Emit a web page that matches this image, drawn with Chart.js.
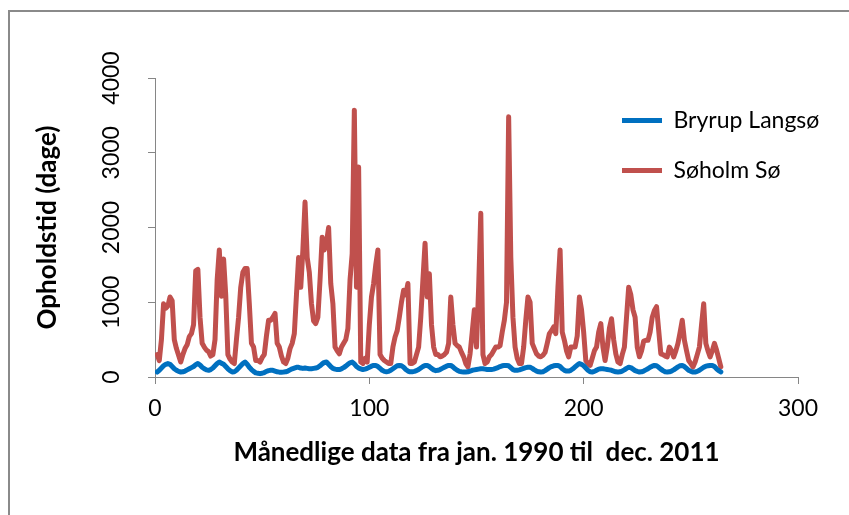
<!DOCTYPE html>
<html>
<head>
<meta charset="utf-8">
<script src="https://cdn.jsdelivr.net/npm/chart.js@4/dist/chart.umd.min.js"></script>
<style>
    body { margin: 0; background: #fff; }
    #wrap { position: relative; width: 849px; height: 515px; }
    #frame {
        position: absolute; left: 8px; top: 10px; right: -4px; bottom: -4px;
        border-top: 2px solid #8a8a8a; border-left: 2px solid #8a8a8a;
    }
</style>
</head>
<body>
<div id="wrap">
    <div id="frame"></div>
    <canvas id="residenceChart"></canvas>
</div>
<script>
// Monthly residence time (days), Jan 1990 - Dec 2011, one row per year
const bryrup = [
    67, 90, 120, 150, 170, 180, 170, 140, 110, 90, 75, 67,
    70, 80, 95, 110, 125, 140, 165, 180, 160, 130, 110, 95,
    90, 100, 120, 150, 180, 200, 185, 170, 140, 110, 85, 67,
    70, 90, 120, 150, 180, 200, 170, 130, 100, 75, 55, 50,
    45, 50, 60, 75, 85, 90, 90, 80, 70, 65, 65, 67,
    70, 80, 95, 110, 120, 130, 130, 120, 115, 120, 115, 110,
    110, 115, 120, 130, 150, 175, 195, 200, 170, 140, 115, 105,
    100, 100, 110, 125, 145, 170, 190, 200, 175, 140, 120, 110,
    100, 105, 115, 130, 145, 155, 155, 140, 115, 90, 75, 70,
    75, 90, 110, 130, 150, 155, 150, 130, 100, 80, 70, 70,
    75, 85, 100, 120, 140, 155, 155, 140, 115, 95, 85, 90,
    100, 115, 130, 145, 155, 155, 135, 110, 90, 75, 70, 67,
    67, 70, 80, 90, 95, 100, 105, 110, 110, 105, 100, 100,
    100, 105, 115, 125, 140, 150, 155, 155, 150, 125, 100, 90,
    90, 95, 105, 115, 125, 130, 130, 115, 95, 80, 70, 67,
    70, 85, 105, 125, 140, 150, 155, 155, 140, 110, 90, 80,
    80, 90, 110, 135, 160, 180, 170, 150, 120, 90, 70, 67,
    75, 90, 105, 110, 110, 105, 100, 95, 90, 80, 70, 67,
    70, 80, 95, 115, 130, 125, 105, 85, 75, 67, 70, 80,
    95, 110, 130, 145, 155, 150, 130, 105, 85, 70, 67, 70,
    80, 95, 115, 135, 150, 155, 140, 115, 90, 75, 67, 67,
    75, 90, 110, 130, 145, 150, 155, 155, 140, 110, 85, 67
];
const soholm = [
    300, 220, 500, 980, 920, 950, 1070, 1020, 500, 380, 290, 200,
    300, 380, 430, 540, 580, 700, 1420, 1440, 800, 450, 400, 360,
    340, 280, 300, 500, 1300, 1700, 1080, 1580, 1100, 300, 240, 200,
    180, 500, 800, 1200, 1400, 1450, 1450, 980, 450, 400, 220, 220,
    200, 260, 300, 550, 760, 760, 800, 850, 450, 400, 280, 200,
    180, 250, 380, 450, 580, 1100, 1600, 1200, 1700, 2340, 1600, 1400,
    980, 750, 715, 800, 1300, 1870, 1700, 1800, 2000, 1250, 980, 400,
    350, 310, 400, 450, 500, 650, 1300, 1650, 3570, 1200, 2810, 200,
    180, 250, 200, 700, 1070, 1250, 1500, 1700, 300, 250, 220, 200,
    180, 180, 400, 535, 620, 800, 1000, 1160, 1100, 1250, 180, 180,
    200, 300, 400, 800, 1300, 1790, 1070, 1380, 700, 400, 300, 300,
    270, 280, 300, 330, 450, 1070, 700, 450, 420, 400, 330, 270,
    180, 135, 310, 600, 900, 400, 1200, 2190, 300, 180, 200, 270,
    300, 350, 400, 400, 420, 600, 760, 1000, 3480, 1600, 800, 400,
    250, 180, 180, 400, 760, 1070, 1000, 450, 380, 310, 280, 270,
    290, 330, 450, 580, 620, 670, 580, 1200, 1700, 600, 490, 350,
    270, 400, 400, 400, 550, 1070, 900, 600, 220, 180, 155, 250,
    350, 400, 600, 715, 400, 220, 400, 650, 780, 500, 310, 200,
    180, 300, 400, 800, 1200, 1100, 900, 800, 400, 270, 350, 480,
    490, 490, 600, 800, 890, 940, 625, 310, 300, 280, 270, 400,
    350, 270, 350, 450, 600, 760, 490, 350, 220, 180, 135, 200,
    300, 400, 700, 980, 450, 350, 270, 350, 450, 360, 250, 135
];
const months = bryrup.map((_, i) => i + 1);
const xTicks = [0, 100, 200, 300];
const yTicks = [0, 1000, 2000, 3000, 4000];

const axisGrey = '#868686';
const font = 'Lato';

// legend sits inside the plot, top right
const placeLegend = {
    id: 'placeLegend',
    afterLayout(chart) {
        const lg = chart.legend;
        lg.left = 595;
        lg.top = 82;
        lg.right = 849;
        lg.bottom = 300;
    }
};

const toPoints = vals => vals.map((v, i) => ({ x: months[i], y: v }));

new Chart(document.getElementById('residenceChart'), {
    type: 'line',
    data: {
        datasets: [
            {
                label: 'Bryrup Langsø',
                data: toPoints(bryrup),
                borderColor: '#0070c0',
                backgroundColor: '#0070c0',
                borderWidth: 5,
                borderCapStyle: 'round',
                borderJoinStyle: 'round',
                pointRadius: 0,
                pointStyle: 'line',
                tension: 0
            },
            {
                label: 'Søholm Sø',
                data: toPoints(soholm),
                borderColor: '#c0504d',
                backgroundColor: '#c0504d',
                borderWidth: 5,
                borderCapStyle: 'round',
                borderJoinStyle: 'round',
                pointRadius: 0,
                pointStyle: 'line',
                tension: 0
            }
        ]
    },
    options: {
        responsive: true,
        maintainAspectRatio: false,
        animation: false,
        layout: { padding: { left: 0, top: 78, right: 51, bottom: 47 } },
        plugins: {
            tooltip: { enabled: false },
            legend: {
                position: 'chartArea',
                align: 'start',
                labels: {
                    usePointStyle: true,
                    pointStyleWidth: 40,
                    padding: 27,
                    color: '#000',
                    font: { family: font, size: 23 }
                }
            }
        },
        scales: {
            x: {
                type: 'linear',
                min: 0,
                max: 300,
                afterBuildTicks: s => { s.ticks = xTicks.map(v => ({ value: v })); },
                afterFit: s => { s.height = 91; },
                grid: { drawOnChartArea: false, drawTicks: true, tickLength: 7, color: axisGrey },
                border: { color: axisGrey, width: 1 },
                ticks: { color: '#000', padding: 11, maxRotation: 0, font: { family: font, size: 23 } },
                title: {
                    display: true,
                    text: 'Månedlige data fra jan. 1990 til  dec. 2011',
                    color: '#000',
                    padding: 0,
                    font: { family: font, size: 26, weight: 'bold' }
                }
            },
            y: {
                min: 0,
                max: 4000,
                afterBuildTicks: s => { s.ticks = yTicks.map(v => ({ value: v })); },
                afterFit: s => { s.width = 155; },
                grid: { drawOnChartArea: false, drawTicks: true, tickLength: 7, color: axisGrey },
                border: { color: axisGrey, width: 1 },
                ticks: {
                    color: '#000',
                    padding: 10,
                    minRotation: 90,
                    maxRotation: 90,
                    crossAlign: 'center',
                    callback: v => String(v),
                    font: { family: font, size: 23 }
                },
                title: {
                    display: true,
                    text: 'Opholdstid (dage)',
                    color: '#000',
                    padding: { top: 32, bottom: 0 },
                    font: { family: font, size: 26, weight: 'bold' }
                }
            }
        }
    },
    plugins: [placeLegend]
});
</script>
</body>
</html>
